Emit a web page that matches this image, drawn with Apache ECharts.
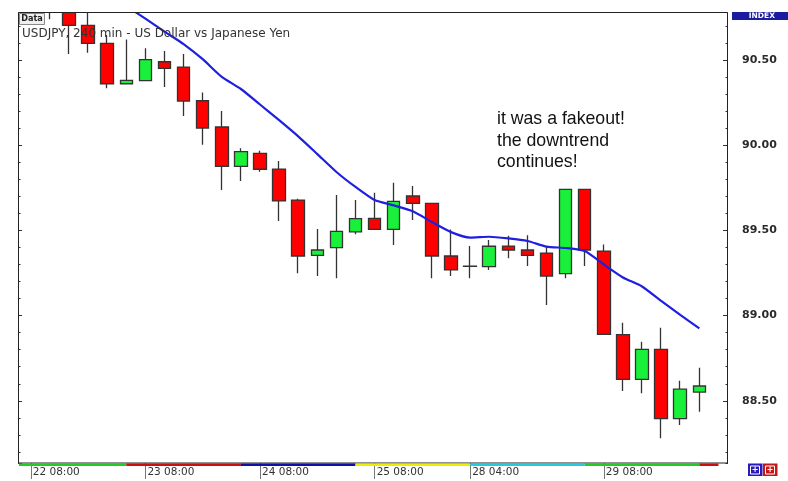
<!DOCTYPE html>
<html>
<head>
<meta charset="utf-8">
<script src="https://cdn.jsdelivr.net/npm/echarts@6/dist/echarts.min.js"></script>
<style>html,body{margin:0;padding:0;background:#fff;}#main{width:788px;height:481px;}</style>
</head>
<body>
<div id="main"></div>
<script>
// ---- data ----
const categories = ['22 08:00','22 12:00','22 16:00','22 20:00','23 00:00','23 04:00','23 08:00','23 12:00','23 16:00','23 20:00',
  '24 00:00','24 04:00','24 08:00','24 12:00','24 16:00','24 20:00','25 00:00','25 04:00','25 08:00','25 12:00',
  '25 16:00','25 20:00','28 00:00','28 04:00','28 08:00','28 12:00','28 16:00','28 20:00','29 00:00','29 04:00',
  '29 08:00','29 12:00','29 16:00','29 20:00','30 00:00','30 04:00',''];
const shownLabels = [0, 6, 12, 18, 23, 30];
const openV  = [90.98,90.92,90.84,90.704,90.598,90.361,90.379,90.49,90.459,90.261,90.107,89.876,89.952,89.86,89.678,89.354,89.399,89.492,89.571,89.506,89.702,89.659,89.35,89.289,89.287,89.408,89.385,89.367,89.246,89.741,89.379,88.888,88.626,88.802,88.395,88.551];
const closeV = [90.92,90.84,90.704,90.598,90.361,90.381,90.502,90.451,90.259,90.101,89.876,89.962,89.859,89.673,89.35,89.385,89.495,89.569,89.506,89.671,89.659,89.35,89.268,89.290,89.407,89.385,89.354,89.232,89.741,89.385,88.89,88.626,88.802,88.395,88.568,88.587];
const lowV   = [90.88,90.74,90.535,90.543,90.334,90.359,90.379,90.342,90.171,90.003,89.737,89.79,89.845,89.555,89.248,89.232,89.219,89.477,89.502,89.414,89.561,89.219,89.232,89.219,89.268,89.336,89.291,89.062,89.219,89.291,88.89,88.558,88.544,88.28,88.358,88.436];
const highV  = [91.02,90.95,90.88,90.80,90.647,90.621,90.569,90.553,90.535,90.31,90.201,89.982,89.968,89.907,89.686,89.508,89.708,89.678,89.721,89.78,89.761,89.66,89.506,89.408,89.444,89.469,89.471,89.408,89.741,89.741,89.418,88.958,88.847,88.929,88.618,88.694];
const maV    = [null,null,null,null,90.887,90.817,90.743,90.667,90.594,90.505,90.401,90.33,90.239,90.147,90.052,89.948,89.843,89.755,89.678,89.647,89.612,89.549,89.49,89.458,89.463,89.453,89.438,89.405,89.397,89.379,89.3,89.224,89.171,89.086,89.004,88.925];
const yMin = 88.135, yMax = 90.782;
const stripBounds = [4.5, 10.5, 16.5, 22.5, 28.5, 34.5, 35.5];
const stripColors = ['#22cc22','#cc1010','#1010a8','#eeee00','#22ccdd','#22cc22','#cc1010'];
const titleText = 'USDJPY, 240 min - US Dollar vs Japanese Yen';
const noteText = 'it was a fakeout!\nthe downtrend\ncontinues!';

const candleData = openV.map((o, i) => [o, closeV[i], lowV[i], highV[i]]);

const chart = echarts.init(document.getElementById('main'), null, {renderer: 'canvas'});
const FONT = 'DejaVu Sans';
function yAx(pos, split, len, labels) {
  return {
    type: 'value', position: pos, min: yMin, max: yMax, splitNumber: split,
    offset: pos === 'left' ? 3.25 : 0,
    scale: true,
    axisLine: {show: false},
    splitLine: {show: false},
    axisTick: {show: true, inside: true, length: len, lineStyle: {color: '#333', width: 1}},
    axisLabel: labels ? {
      show: true, margin: 14, fontFamily: FONT, fontWeight: 'bold', fontSize: 11, color: '#2a2a2a',
      showMinLabel: false, showMaxLabel: false,
      formatter: v => (Math.abs(v * 2 - Math.round(v * 2)) < 1e-6 ? v.toFixed(2) : '')
    } : {show: false}
  };
}
chart.setOption({
  animation: false,
  backgroundColor: '#fff',
  grid: {left: 21.25, right: 60, top: 12, bottom: 18, containLabel: false},
  xAxis: {
    type: 'category', data: categories, boundaryGap: true,
    axisLine: {show: false},
    axisTick: {show: true, alignWithLabel: true, length: 16, interval: (i) => shownLabels.includes(i), lineStyle: {color: '#777'}},
    axisLabel: {interval: (i) => shownLabels.includes(i), align: 'left', padding: [0, 0, 0, 2], margin: 4,
      fontFamily: FONT, fontSize: 10.5, color: '#333'},
    splitLine: {show: false}
  },
  yAxis: [yAx('right', 5, 5, true), yAx('right', 26, 2.5, false), yAx('left', 5, 4, false), yAx('left', 26, 2.5, false)],
  series: [
    {
      type: 'candlestick', data: candleData, yAxisIndex: 0, barWidth: 13, clip: true,
      itemStyle: {color: '#19f03a', color0: '#ff0000', borderColor: '#333', borderColor0: '#333', borderWidth: 1.3}
    },
    {
      type: 'line', data: maV, yAxisIndex: 0, symbol: 'none', smooth: 0.2, clip: true,
      lineStyle: {color: '#1f1fe0', width: 2.2}
    }
  ]
});

const g = [];
// mask anything drawn above the plot area
g.push({type: 'rect', silent: true, z: 90, shape: {x: 0, y: 0, width: 731, height: 12.5}, style: {fill: '#fff'}});
g.push({type: 'rect', silent: true, z: 100, shape: {x: 18.5, y: 12.5, width: 709, height: 450.5},
  style: {fill: null, stroke: '#222', lineWidth: 1}});
// colored day strip
let prev = 19;
stripBounds.forEach((b, k) => {
  const x = chart.convertToPixel({xAxisIndex: 0}, b);
  g.push({type: 'rect', silent: true, z: 101, shape: {x: prev, y: 463.5, width: x - prev, height: 2.5}, style: {fill: stripColors[k]}});
  prev = x;
});
// title
g.push({type: 'text', silent: true, z: 110, style: {x: 22, y: 26.5, text: titleText, font: '12px "DejaVu Sans"', fill: '#333', lineHeight: 14}});
// Data button
g.push({type: 'rect', silent: true, z: 110, shape: {x: 19.5, y: 13.5, width: 25, height: 11}, style: {fill: '#eeeeee', stroke: '#888', lineWidth: 1}});
g.push({type: 'text', silent: true, z: 111, style: {x: 32, y: 19, text: 'Data', font: 'bold 9px "DejaVu Sans Condensed", "DejaVu Sans"', fill: '#222', align: 'center', verticalAlign: 'middle'}});
// annotation
g.push({type: 'text', silent: true, z: 110, style: {x: 497, y: 108.5, text: noteText, font: '17.7px "Liberation Sans", Arial', fill: '#111', lineHeight: 21.5}});
// INDEX box
g.push({type: 'rect', silent: true, z: 110, shape: {x: 732, y: 12, width: 56, height: 8}, style: {fill: '#1c1ca0'}});
g.push({type: 'text', silent: true, z: 111, style: {x: 775, y: 16.2, text: 'INDEX', font: 'bold 7.5px "DejaVu Sans"', fill: '#fff', align: 'right', verticalAlign: 'middle'}});
// buttons
g.push({type: 'rect', silent: true, z: 110, shape: {x: 748, y: 463.5, width: 14.5, height: 12.5}, style: {fill: '#2a1ab8'}});
g.push({type: 'rect', silent: true, z: 111, shape: {x: 750.5, y: 466, width: 9, height: 8}, style: {fill: null, stroke: '#fff', lineWidth: 1}});
g.push({type: 'text', silent: true, z: 112, style: {x: 755, y: 470, text: '+', font: 'bold 8px "DejaVu Sans"', fill: '#fff', align: 'center', verticalAlign: 'middle'}});
g.push({type: 'rect', silent: true, z: 110, shape: {x: 763, y: 463.5, width: 14.5, height: 12.5}, style: {fill: '#c41818'}});
g.push({type: 'rect', silent: true, z: 111, shape: {x: 765.5, y: 466, width: 9, height: 8}, style: {fill: null, stroke: '#fff', lineWidth: 1}});
g.push({type: 'text', silent: true, z: 112, style: {x: 770, y: 470, text: '+', font: 'bold 8px "DejaVu Sans"', fill: '#fff', align: 'center', verticalAlign: 'middle'}});
chart.setOption({graphic: g});
</script>
</body>
</html>
